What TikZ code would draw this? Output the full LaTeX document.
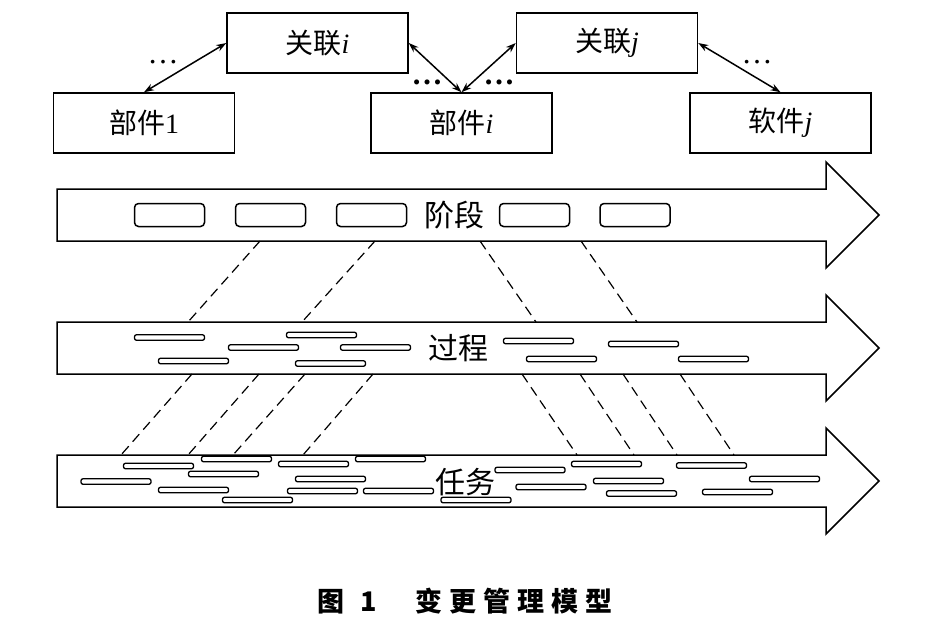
\documentclass[tikz,border=0pt]{standalone}
\usepackage{fontspec}
\setmainfont{Liberation Serif}
\newfontfamily\cjk{Noto Sans CJK SC}
\usetikzlibrary{arrows.meta, positioning}

\begin{document}
\begin{tikzpicture}[x=1pt,y=-1pt,line width=1.5pt]
        \useasboundingbox (0,0) rectangle (929,632);
        % components and relations
        \begin{scope}[every node/.style={draw,rectangle,minimum width=181pt,minimum height=60pt,font=\fontsize{28}{32}\selectfont}]
          \node (reli) at (317.5,43) {{\cjk 关联}\textit{i}};
          \node (relj) at (607,43) {{\cjk 关联}\textit{j}};
          \node (part1) at (144,123) {{\cjk 部件}1};
          \node (parti) at (461.5,123) {{\cjk 部件}\textit{i}};
          \node (softj) at (780.5,123) {{\cjk 软件}\textit{j}};
        \end{scope}
        \begin{scope}[every node/.style={inner sep=0pt,font=\fontsize{31}{32}\selectfont}]
          \node (dots1) at (163,62) {\textellipsis};
          \node (dots2) at (427,82) {\textbf{\textellipsis}};
          \node (dots3) at (499,82) {\textbf{\textellipsis}};
          \node (dots4) at (757,62) {\textellipsis};
        \end{scope}
        \begin{scope}[>={Stealth[length=10pt,width=7pt]},every edge/.style={draw=black,<->}]
          \path (part1.north) edge (reli.west);
          \path (reli.east) edge (parti.north);
          \path (parti.north) edge (relj.west);
          \path (relj.east) edge (softj.north);
        \end{scope}
        % phase, process, task
        \foreach \y in {215,348,481}
          \draw (57,\y-26) -- (826,\y-26) -- (826,\y-53) -- (879,\y) -- (826,\y+53) -- (826,\y+26) -- (57,\y+26) -- cycle;
        \begin{scope}[every node/.style={font=\fontsize{30}{32}\selectfont\cjk}]
          \node (phase) at (454,215) {阶段};
          \node (proc) at (458,348) {过程};
          \node (task) at (465,482) {任务};
        \end{scope}
        \begin{scope}[every node/.style={draw,rounded corners=4pt,minimum width=70pt,minimum height=23pt,inner sep=0pt}]
          \foreach \x in {169.5,270.5,371.5,534.5,635}
            \node at (\x,215) {};
        \end{scope}
        \begin{scope}[every node/.style={draw,line width=1.3pt,rounded corners=2pt,minimum width=70pt,minimum height=5.5pt,inner sep=0pt}]
          \foreach \x/\y in {169.5/337.5,263.5/347.5,193.5/361,321.5/335,330.5/363.5,375.5/347.5,538.5/341,561.5/359,643.5/344,713.5/359}
            \node at (\x,\y) {};
          \foreach \x/\y in {158.5/466,236.5/459,116/481.5,223.5/474,193.5/490,257.5/500,313.5/464,330.5/479,322.5/491,390.5/459,398.5/491,476/500,530/470,551/487,606.5/464,628.5/481,641.5/493.5,711.5/465.5,737.5/492,784.5/479}
            \node at (\x,\y) {};
        \end{scope}
        \begin{scope}[line width=1.2pt,dash pattern=on 10pt off 6pt]
          \foreach \a/\b in {260/188,375/302,480/536,581/637}
            \draw (\a,241) -- (\b,322);
          \foreach \a/\b in {192/121,259/188,305/233,373/303,522/577,580/634,623/677,680/734}
            \draw (\a,374) -- (\b,455);
        \end{scope}
        \node (caption) at (465,601) {\fontsize{27}{30}\selectfont\cjk\bfseries 图\kern16pt 1\kern38pt 变\kern7pt 更\kern7pt 管\kern7pt 理\kern7pt 模\kern7pt 型};
      \end{tikzpicture}
\end{document}
